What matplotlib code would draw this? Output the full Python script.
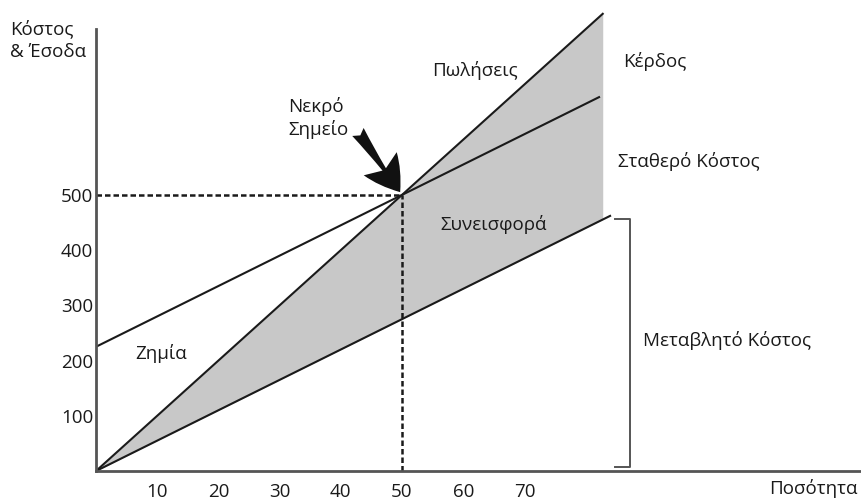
import numpy as np
import matplotlib.pyplot as plt

plt.rcParams['font.family'] = ['Open Sans', 'DejaVu Sans']

# break-even data (quantity vs money)
price = 10.0
unit_var_cost = 5.5
fixed_cost = 225.0
break_even_q = 50
break_even_v = 500

q_sales = np.array([0, 82.8])
q_total = np.array([0, 82.2])
q_var = np.array([0, 84.0])
q_fill = np.array([0, 82.8])

x_ticks = [10, 20, 30, 40, 50, 60, 70]
y_ticks = [100, 200, 300, 400, 500]

sales = price * q_sales
total_cost = fixed_cost + unit_var_cost * q_total
var_cost = unit_var_cost * q_var

fig = plt.figure(figsize=(8.61, 5.01), dpi=100)
ax = fig.add_axes([96 / 861, 30 / 501, 765 / 861, 471 / 501])
ax.set_xlim(0, 125)
ax.set_ylim(0, 853)

axis_col = '#555555'
ink = '#1a1a1a'
ax.fill_between(q_fill, unit_var_cost * q_fill, price * q_fill,
                color='#c8c8c8', lw=0)
ax.plot(q_sales, sales, color=ink, lw=1.5)
ax.plot(q_total, total_cost, color=ink, lw=1.5)
ax.plot(q_var, var_cost, color=ink, lw=1.5)

# break-even guide lines
ax.plot([0, break_even_q], [break_even_v, break_even_v], color=ink,
        lw=1.8, ls=(0, (2.2, 1.2)))
ax.plot([break_even_q, break_even_q], [0, break_even_v], color=ink,
        lw=1.8, ls=(0, (2.2, 1.2)))

# bracket for variable cost
vc_top = unit_var_cost * q_var[-1] - 5
ax.plot([84.8, 87.3, 87.3, 84.8], [vc_top, vc_top, 8, 8],
        color=axis_col, lw=1.4, clip_on=False)

for side in ['top', 'right']:
    ax.spines[side].set_visible(False)
for side in ['left', 'bottom']:
    ax.spines[side].set_color(axis_col)
    ax.spines[side].set_linewidth(2)
ax.spines['left'].set_bounds(0, 801)

fs = 13.5
ax.set_xticks(x_ticks)
ax.set_xticklabels([str(t) for t in x_ticks])
ax.set_yticks(y_ticks)
ax.set_yticklabels([str(t) for t in y_ticks])
ax.tick_params(length=0, labelsize=fs, colors=ink)
ax.tick_params(axis='x', pad=8.5)
ax.tick_params(axis='y', pad=2)

ax.annotate('', xy=(break_even_q - 0.3, break_even_v + 5),
            xytext=(42.8, 614),
            arrowprops=dict(arrowstyle='fancy,head_length=1.25,head_width=1.45,tail_width=0.5',
                            color='#111111', lw=0, shrinkA=0, shrinkB=0,
                            mutation_scale=20))

ax.text(31.4, 639, 'Νεκρό\nΣημείο', fontsize=fs, ha='left', va='center',
        linespacing=1.25, color=ink)
ax.text(61.9, 726, 'Πωλήσεις', fontsize=fs, ha='center', va='center', color=ink)
ax.text(86.1, 741, 'Κέρδος', fontsize=fs, ha='left', va='center', color=ink)
ax.text(85.3, 560, 'Σταθερό Κόστος', fontsize=fs, ha='left', va='center', color=ink)
ax.text(56.2, 447, 'Συνεισφορά', fontsize=fs, ha='left', va='center', color=ink)
ax.text(89.4, 236, 'Μεταβλητό Κόστος', fontsize=fs, ha='left', va='center', color=ink)
ax.text(6.4, 212, 'Ζημία', fontsize=fs, ha='left', va='center', color=ink)

fig.text(10 / 861, 1 - 40 / 501, 'Κόστος\n& Έσοδα', fontsize=fs, ha='left',
         va='center', linespacing=1.35, color=ink)
fig.text(858 / 861, 1 - 488 / 501, 'Ποσότητα', fontsize=fs, ha='right',
         va='center', color=ink)

fig.savefig('out.png', dpi=100)
